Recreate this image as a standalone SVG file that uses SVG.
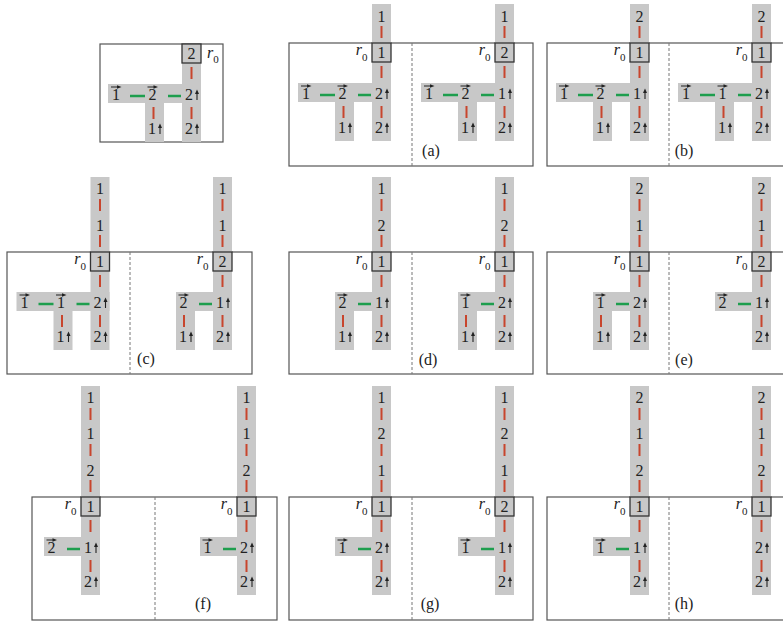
<svg xmlns="http://www.w3.org/2000/svg" width="783" height="622" viewBox="0 0 783 622">
<style>
.g{fill:#c8c8c8}
.rb{fill:#c8c8c8;stroke:#333;stroke-width:1.3}
.t{font-family:"Liberation Serif","Times New Roman",serif;font-size:16px;fill:#222;text-anchor:middle}
.ri{font-family:"Liberation Serif","Times New Roman",serif;font-size:16px;font-style:italic;fill:#222;text-anchor:end}
.rs{text-anchor:start}
.sub{font-size:11px;font-style:normal}
.rd{stroke:#c8452d;stroke-width:2;fill:none}
.gn{stroke:#1e9e4e;stroke-width:2.5;fill:none}
.fr{fill:none;stroke:#555;stroke-width:1.2}
.dv{stroke:#777;stroke-width:1;stroke-dasharray:3 2}
</style>
<defs>
<g id="up"><path d="M0,0 V-7" stroke="#222" stroke-width="1.1"/><path d="M-2,-6 L0,-10.5 L2,-6 Z" fill="#222"/></g>
<g id="vec"><path d="M-5,0 H2" stroke="#222" stroke-width="1"/><path d="M1,-1.8 L5.5,0 L1,1.8 Z" fill="#222"/></g>
</defs>

<g id="frames">
<rect class="fr" x="100" y="44" width="123" height="98"/>
<rect class="fr" x="289" y="43" width="244" height="123"/><line class="dv" x1="412" y1="43" x2="412" y2="166"/>
<rect class="fr" x="547" y="43" width="244" height="123"/><line class="dv" x1="669" y1="43" x2="669" y2="166"/>
<rect class="fr" x="7" y="252" width="245" height="122"/><line class="dv" x1="130" y1="252" x2="130" y2="374"/>
<rect class="fr" x="289" y="252" width="244" height="122"/><line class="dv" x1="412" y1="252" x2="412" y2="374"/>
<rect class="fr" x="547" y="252" width="244" height="122"/><line class="dv" x1="669" y1="252" x2="669" y2="374"/>
<rect class="fr" x="32" y="497" width="245" height="123"/><line class="dv" x1="155" y1="497" x2="155" y2="620"/>
<rect class="fr" x="289" y="497" width="244" height="123"/><line class="dv" x1="412" y1="497" x2="412" y2="620"/>
<rect class="fr" x="547" y="497" width="244" height="123"/><line class="dv" x1="669" y1="497" x2="669" y2="620"/>
</g>

<g id="labels">
<text class="t" x="431" y="156">(a)</text>
<text class="t" x="684" y="156">(b)</text>
<text class="t" x="146" y="364">(c)</text>
<text class="t" x="428" y="365">(d)</text>
<text class="t" x="684" y="365">(e)</text>
<text class="t" x="203" y="609">(f)</text>
<text class="t" x="430" y="609">(g)</text>
<text class="t" x="684" y="609">(h)</text>
</g>

<!-- top-left -->
<g id="start" transform="translate(191.5,44)">
<rect class="g" x="-9.5" y="0" width="19" height="98"/>
<rect class="g" x="-83.5" y="40" width="93" height="19"/>
<rect class="g" x="-46.5" y="40" width="19" height="58"/>
<rect class="rb" x="-9.5" y="0" width="19" height="19"/>
<text class="ri rs" x="15.5" y="14">r<tspan class="sub" dy="5">0</tspan></text>
<text class="t" x="0" y="15">2</text>
<text class="t" x="-75.5" y="56">1</text><use href="#vec" x="-75.5" y="43"/>
<text class="t" x="-39" y="56">2</text><use href="#vec" x="-39" y="43"/>
<text class="t" x="-2.5" y="56">2</text><use href="#up" x="5.5" y="56"/>
<text class="t" x="-39.5" y="90">1</text><use href="#up" x="-31.5" y="90"/>
<text class="t" x="-2.5" y="90">2</text><use href="#up" x="5.5" y="90"/>
</g>

<!-- (a) -->
<g id="a-left" transform="translate(381.5,43)">
<rect class="g" x="-9.5" y="-39" width="19" height="137"/>
<rect class="g" x="-83.5" y="40" width="93" height="19"/>
<rect class="g" x="-46.5" y="40" width="19" height="58"/>
<rect class="rb" x="-9.5" y="0" width="19" height="19"/>
<text class="ri" x="-14" y="12">r<tspan class="sub" dy="6">0</tspan></text>
<text class="t" x="0" y="-21.5">1</text>
<text class="t" x="0" y="15">1</text>
<text class="t" x="-75.5" y="56">1</text><use href="#vec" x="-75.5" y="43"/>
<text class="t" x="-39" y="56">2</text><use href="#vec" x="-39" y="43"/>
<text class="t" x="-2.5" y="56">2</text><use href="#up" x="5.5" y="56"/>
<text class="t" x="-39.5" y="90">1</text><use href="#up" x="-31.5" y="90"/>
<text class="t" x="-2.5" y="90">2</text><use href="#up" x="5.5" y="90"/>
</g>
<g id="a-right" transform="translate(504.5,43)">
<rect class="g" x="-9.5" y="-39" width="19" height="137"/>
<rect class="g" x="-83.5" y="40" width="93" height="19"/>
<rect class="g" x="-46.5" y="40" width="19" height="58"/>
<rect class="rb" x="-9.5" y="0" width="19" height="19"/>
<text class="ri" x="-14" y="12">r<tspan class="sub" dy="6">0</tspan></text>
<text class="t" x="0" y="-21.5">1</text>
<text class="t" x="0" y="15">2</text>
<text class="t" x="-75.5" y="56">1</text><use href="#vec" x="-75.5" y="43"/>
<text class="t" x="-39" y="56">2</text><use href="#vec" x="-39" y="43"/>
<text class="t" x="-2.5" y="56">1</text><use href="#up" x="5.5" y="56"/>
<text class="t" x="-39.5" y="90">1</text><use href="#up" x="-31.5" y="90"/>
<text class="t" x="-2.5" y="90">2</text><use href="#up" x="5.5" y="90"/>
</g>

<!-- (b) -->
<g id="b-left" transform="translate(639.5,43)">
<rect class="g" x="-9.5" y="-39" width="19" height="137"/>
<rect class="g" x="-83.5" y="40" width="93" height="19"/>
<rect class="g" x="-46.5" y="40" width="19" height="58"/>
<rect class="rb" x="-9.5" y="0" width="19" height="19"/>
<text class="ri" x="-14" y="12">r<tspan class="sub" dy="6">0</tspan></text>
<text class="t" x="0" y="-21.5">2</text>
<text class="t" x="0" y="15">1</text>
<text class="t" x="-75.5" y="56">1</text><use href="#vec" x="-75.5" y="43"/>
<text class="t" x="-39" y="56">2</text><use href="#vec" x="-39" y="43"/>
<text class="t" x="-2.5" y="56">1</text><use href="#up" x="5.5" y="56"/>
<text class="t" x="-39.5" y="90">1</text><use href="#up" x="-31.5" y="90"/>
<text class="t" x="-2.5" y="90">2</text><use href="#up" x="5.5" y="90"/>
</g>
<g id="b-right" transform="translate(761.5,43)">
<rect class="g" x="-9.5" y="-39" width="19" height="137"/>
<rect class="g" x="-83.5" y="40" width="93" height="19"/>
<rect class="g" x="-46.5" y="40" width="19" height="58"/>
<rect class="rb" x="-9.5" y="0" width="19" height="19"/>
<text class="ri" x="-14" y="12">r<tspan class="sub" dy="6">0</tspan></text>
<text class="t" x="0" y="-21.5">2</text>
<text class="t" x="0" y="15">1</text>
<text class="t" x="-75.5" y="56">1</text><use href="#vec" x="-75.5" y="43"/>
<text class="t" x="-39" y="56">1</text><use href="#vec" x="-39" y="43"/>
<text class="t" x="-2.5" y="56">2</text><use href="#up" x="5.5" y="56"/>
<text class="t" x="-39.5" y="90">1</text><use href="#up" x="-31.5" y="90"/>
<text class="t" x="-2.5" y="90">2</text><use href="#up" x="5.5" y="90"/>
</g>

<!-- (c) -->
<g id="c-left" transform="translate(100,252)">
<rect class="g" x="-9.5" y="-75" width="19" height="173"/>
<rect class="g" x="-83.5" y="40" width="93" height="19"/>
<rect class="g" x="-46.5" y="40" width="19" height="58"/>
<rect class="rb" x="-9.5" y="0" width="19" height="19"/>
<text class="ri" x="-14" y="12">r<tspan class="sub" dy="6">0</tspan></text>
<text class="t" x="0" y="-58">1</text>
<text class="t" x="0" y="-21.5">1</text>
<text class="t" x="0" y="15">1</text>
<text class="t" x="-75.5" y="56">1</text><use href="#vec" x="-75.5" y="43"/>
<text class="t" x="-39" y="56">1</text><use href="#vec" x="-39" y="43"/>
<text class="t" x="-2.5" y="56">2</text><use href="#up" x="5.5" y="56"/>
<text class="t" x="-39.5" y="90">1</text><use href="#up" x="-31.5" y="90"/>
<text class="t" x="-2.5" y="90">2</text><use href="#up" x="5.5" y="90"/>
</g>
<g id="c-right" transform="translate(222.5,252)">
<rect class="g" x="-9.5" y="-75" width="19" height="173"/>
<rect class="g" x="-46.5" y="40" width="56" height="19"/>
<rect class="g" x="-46.5" y="40" width="19" height="58"/>
<rect class="rb" x="-9.5" y="0" width="19" height="19"/>
<text class="ri" x="-14" y="12">r<tspan class="sub" dy="6">0</tspan></text>
<text class="t" x="0" y="-58">1</text>
<text class="t" x="0" y="-21.5">1</text>
<text class="t" x="0" y="15">2</text>
<text class="t" x="-39" y="56">2</text><use href="#vec" x="-39" y="43"/>
<text class="t" x="-2.5" y="56">1</text><use href="#up" x="5.5" y="56"/>
<text class="t" x="-39.5" y="90">1</text><use href="#up" x="-31.5" y="90"/>
<text class="t" x="-2.5" y="90">2</text><use href="#up" x="5.5" y="90"/>
</g>

<!-- (d) -->
<g id="d-left" transform="translate(381.5,252)">
<rect class="g" x="-9.5" y="-75" width="19" height="173"/>
<rect class="g" x="-46.5" y="40" width="56" height="19"/>
<rect class="g" x="-46.5" y="40" width="19" height="58"/>
<rect class="rb" x="-9.5" y="0" width="19" height="19"/>
<text class="ri" x="-14" y="12">r<tspan class="sub" dy="6">0</tspan></text>
<text class="t" x="0" y="-58">1</text>
<text class="t" x="0" y="-21.5">2</text>
<text class="t" x="0" y="15">1</text>
<text class="t" x="-39" y="56">2</text><use href="#vec" x="-39" y="43"/>
<text class="t" x="-2.5" y="56">1</text><use href="#up" x="5.5" y="56"/>
<text class="t" x="-39.5" y="90">1</text><use href="#up" x="-31.5" y="90"/>
<text class="t" x="-2.5" y="90">2</text><use href="#up" x="5.5" y="90"/>
</g>
<g id="d-right" transform="translate(504.5,252)">
<rect class="g" x="-9.5" y="-75" width="19" height="173"/>
<rect class="g" x="-46.5" y="40" width="56" height="19"/>
<rect class="g" x="-46.5" y="40" width="19" height="58"/>
<rect class="rb" x="-9.5" y="0" width="19" height="19"/>
<text class="ri" x="-14" y="12">r<tspan class="sub" dy="6">0</tspan></text>
<text class="t" x="0" y="-58">1</text>
<text class="t" x="0" y="-21.5">2</text>
<text class="t" x="0" y="15">1</text>
<text class="t" x="-39" y="56">1</text><use href="#vec" x="-39" y="43"/>
<text class="t" x="-2.5" y="56">2</text><use href="#up" x="5.5" y="56"/>
<text class="t" x="-39.5" y="90">1</text><use href="#up" x="-31.5" y="90"/>
<text class="t" x="-2.5" y="90">2</text><use href="#up" x="5.5" y="90"/>
</g>

<!-- (e) -->
<g id="e-left" transform="translate(639.5,252)">
<rect class="g" x="-9.5" y="-75" width="19" height="173"/>
<rect class="g" x="-46.5" y="40" width="56" height="19"/>
<rect class="g" x="-46.5" y="40" width="19" height="58"/>
<rect class="rb" x="-9.5" y="0" width="19" height="19"/>
<text class="ri" x="-14" y="12">r<tspan class="sub" dy="6">0</tspan></text>
<text class="t" x="0" y="-58">2</text>
<text class="t" x="0" y="-21.5">1</text>
<text class="t" x="0" y="15">1</text>
<text class="t" x="-39" y="56">1</text><use href="#vec" x="-39" y="43"/>
<text class="t" x="-2.5" y="56">2</text><use href="#up" x="5.5" y="56"/>
<text class="t" x="-39.5" y="90">1</text><use href="#up" x="-31.5" y="90"/>
<text class="t" x="-2.5" y="90">2</text><use href="#up" x="5.5" y="90"/>
</g>
<g id="e-right" transform="translate(761.5,252)">
<rect class="g" x="-9.5" y="-75" width="19" height="173"/>
<rect class="g" x="-46.5" y="40" width="56" height="19"/>
<rect class="rb" x="-9.5" y="0" width="19" height="19"/>
<text class="ri" x="-14" y="12">r<tspan class="sub" dy="6">0</tspan></text>
<text class="t" x="0" y="-58">2</text>
<text class="t" x="0" y="-21.5">1</text>
<text class="t" x="0" y="15">2</text>
<text class="t" x="-39" y="56">2</text><use href="#vec" x="-39" y="43"/>
<text class="t" x="-2.5" y="56">1</text><use href="#up" x="5.5" y="56"/>
<text class="t" x="-2.5" y="90">2</text><use href="#up" x="5.5" y="90"/>
</g>

<!-- (f) -->
<g id="f-left" transform="translate(90.5,497)">
<rect class="g" x="-9.5" y="-111" width="19" height="209"/>
<rect class="g" x="-46.5" y="40" width="56" height="19"/>
<rect class="rb" x="-9.5" y="0" width="19" height="19"/>
<text class="ri" x="-14" y="12">r<tspan class="sub" dy="6">0</tspan></text>
<text class="t" x="0" y="-94.5">1</text>
<text class="t" x="0" y="-58">1</text>
<text class="t" x="0" y="-21.5">2</text>
<text class="t" x="0" y="15">1</text>
<text class="t" x="-39" y="56">2</text><use href="#vec" x="-39" y="43"/>
<text class="t" x="-2.5" y="56">1</text><use href="#up" x="5.5" y="56"/>
<text class="t" x="-2.5" y="90">2</text><use href="#up" x="5.5" y="90"/>
</g>
<g id="f-right" transform="translate(246.5,497)">
<rect class="g" x="-9.5" y="-111" width="19" height="209"/>
<rect class="g" x="-46.5" y="40" width="56" height="19"/>
<rect class="rb" x="-9.5" y="0" width="19" height="19"/>
<text class="ri" x="-14" y="12">r<tspan class="sub" dy="6">0</tspan></text>
<text class="t" x="0" y="-94.5">1</text>
<text class="t" x="0" y="-58">1</text>
<text class="t" x="0" y="-21.5">2</text>
<text class="t" x="0" y="15">1</text>
<text class="t" x="-39" y="56">1</text><use href="#vec" x="-39" y="43"/>
<text class="t" x="-2.5" y="56">2</text><use href="#up" x="5.5" y="56"/>
<text class="t" x="-2.5" y="90">2</text><use href="#up" x="5.5" y="90"/>
</g>

<!-- (g) -->
<g id="g-left" transform="translate(381.5,497)">
<rect class="g" x="-9.5" y="-111" width="19" height="209"/>
<rect class="g" x="-46.5" y="40" width="56" height="19"/>
<rect class="rb" x="-9.5" y="0" width="19" height="19"/>
<text class="ri" x="-14" y="12">r<tspan class="sub" dy="6">0</tspan></text>
<text class="t" x="0" y="-94.5">1</text>
<text class="t" x="0" y="-58">2</text>
<text class="t" x="0" y="-21.5">1</text>
<text class="t" x="0" y="15">1</text>
<text class="t" x="-39" y="56">1</text><use href="#vec" x="-39" y="43"/>
<text class="t" x="-2.5" y="56">2</text><use href="#up" x="5.5" y="56"/>
<text class="t" x="-2.5" y="90">2</text><use href="#up" x="5.5" y="90"/>
</g>
<g id="g-right" transform="translate(504.5,497)">
<rect class="g" x="-9.5" y="-111" width="19" height="209"/>
<rect class="g" x="-46.5" y="40" width="56" height="19"/>
<rect class="rb" x="-9.5" y="0" width="19" height="19"/>
<text class="ri" x="-14" y="12">r<tspan class="sub" dy="6">0</tspan></text>
<text class="t" x="0" y="-94.5">1</text>
<text class="t" x="0" y="-58">2</text>
<text class="t" x="0" y="-21.5">1</text>
<text class="t" x="0" y="15">2</text>
<text class="t" x="-39" y="56">1</text><use href="#vec" x="-39" y="43"/>
<text class="t" x="-2.5" y="56">1</text><use href="#up" x="5.5" y="56"/>
<text class="t" x="-2.5" y="90">2</text><use href="#up" x="5.5" y="90"/>
</g>

<!-- (h) -->
<g id="h-left" transform="translate(639.5,497)">
<rect class="g" x="-9.5" y="-111" width="19" height="209"/>
<rect class="g" x="-46.5" y="40" width="56" height="19"/>
<rect class="rb" x="-9.5" y="0" width="19" height="19"/>
<text class="ri" x="-14" y="12">r<tspan class="sub" dy="6">0</tspan></text>
<text class="t" x="0" y="-94.5">2</text>
<text class="t" x="0" y="-58">1</text>
<text class="t" x="0" y="-21.5">2</text>
<text class="t" x="0" y="15">1</text>
<text class="t" x="-39" y="56">1</text><use href="#vec" x="-39" y="43"/>
<text class="t" x="-2.5" y="56">1</text><use href="#up" x="5.5" y="56"/>
<text class="t" x="-2.5" y="90">2</text><use href="#up" x="5.5" y="90"/>
</g>
<g id="h-right" transform="translate(761.5,497)">
<rect class="g" x="-9.5" y="-111" width="19" height="209"/>
<rect class="rb" x="-9.5" y="0" width="19" height="19"/>
<text class="ri" x="-14" y="12">r<tspan class="sub" dy="6">0</tspan></text>
<text class="t" x="0" y="-94.5">2</text>
<text class="t" x="0" y="-58">1</text>
<text class="t" x="0" y="-21.5">2</text>
<text class="t" x="0" y="15">1</text>
<text class="t" x="-2.5" y="56">2</text><use href="#up" x="5.5" y="56"/>
<text class="t" x="-2.5" y="90">2</text><use href="#up" x="5.5" y="90"/>
</g>

<g id="connectors">
<g transform="translate(191.5,44)"><path class="rd" d="M0,23V35M0,63V75M-38,63V75"/><path class="gn" d="M-61.5,52H-46.5M-23.5,52H-10.5"/></g>
<g transform="translate(381.5,43)"><path class="rd" d="M0,-17V-5M0,23V35M0,63V75M-38,63V75"/><path class="gn" d="M-61.5,52H-46.5M-23.5,52H-10.5"/></g>
<g transform="translate(504.5,43)"><path class="rd" d="M0,-17V-5M0,23V35M0,63V75M-38,63V75"/><path class="gn" d="M-61.5,52H-46.5M-23.5,52H-10.5"/></g>
<g transform="translate(639.5,43)"><path class="rd" d="M0,-17V-5M0,23V35M0,63V75M-38,63V75"/><path class="gn" d="M-61.5,52H-46.5M-23.5,52H-10.5"/></g>
<g transform="translate(761.5,43)"><path class="rd" d="M0,-17V-5M0,23V35M0,63V75M-38,63V75"/><path class="gn" d="M-61.5,52H-46.5M-23.5,52H-10.5"/></g>
<g transform="translate(100,252)"><path class="rd" d="M0,-53V-41M0,-17V-5M0,23V35M0,63V75M-38,63V75"/><path class="gn" d="M-61.5,52H-46.5M-23.5,52H-10.5"/></g>
<g transform="translate(222.5,252)"><path class="rd" d="M0,-53V-41M0,-17V-5M0,23V35M0,63V75M-38.5,63V75"/><path class="gn" d="M-23.5,52H-10.5"/></g>
<g transform="translate(381.5,252)"><path class="rd" d="M0,-53V-41M0,-17V-5M0,23V35M0,63V75M-38.5,63V75"/><path class="gn" d="M-23.5,52H-10.5"/></g>
<g transform="translate(504.5,252)"><path class="rd" d="M0,-53V-41M0,-17V-5M0,23V35M0,63V75M-38.5,63V75"/><path class="gn" d="M-23.5,52H-10.5"/></g>
<g transform="translate(639.5,252)"><path class="rd" d="M0,-53V-41M0,-17V-5M0,23V35M0,63V75M-38.5,63V75"/><path class="gn" d="M-23.5,52H-10.5"/></g>
<g transform="translate(761.5,252)"><path class="rd" d="M0,-53V-41M0,-17V-5M0,23V35M0,63V75"/><path class="gn" d="M-23.5,52H-10.5"/></g>
<g transform="translate(90.5,497)"><path class="rd" d="M0,-89V-77M0,-53V-41M0,-17V-5M0,23V35M0,63V75"/><path class="gn" d="M-23.5,52H-10.5"/></g>
<g transform="translate(246.5,497)"><path class="rd" d="M0,-89V-77M0,-53V-41M0,-17V-5M0,23V35M0,63V75"/><path class="gn" d="M-23.5,52H-10.5"/></g>
<g transform="translate(381.5,497)"><path class="rd" d="M0,-89V-77M0,-53V-41M0,-17V-5M0,23V35M0,63V75"/><path class="gn" d="M-23.5,52H-10.5"/></g>
<g transform="translate(504.5,497)"><path class="rd" d="M0,-89V-77M0,-53V-41M0,-17V-5M0,23V35M0,63V75"/><path class="gn" d="M-23.5,52H-10.5"/></g>
<g transform="translate(639.5,497)"><path class="rd" d="M0,-89V-77M0,-53V-41M0,-17V-5M0,23V35M0,63V75"/><path class="gn" d="M-23.5,52H-10.5"/></g>
<g transform="translate(761.5,497)"><path class="rd" d="M0,-89V-77M0,-53V-41M0,-17V-5M0,23V35M0,63V75"/></g>
</g>
</svg>
